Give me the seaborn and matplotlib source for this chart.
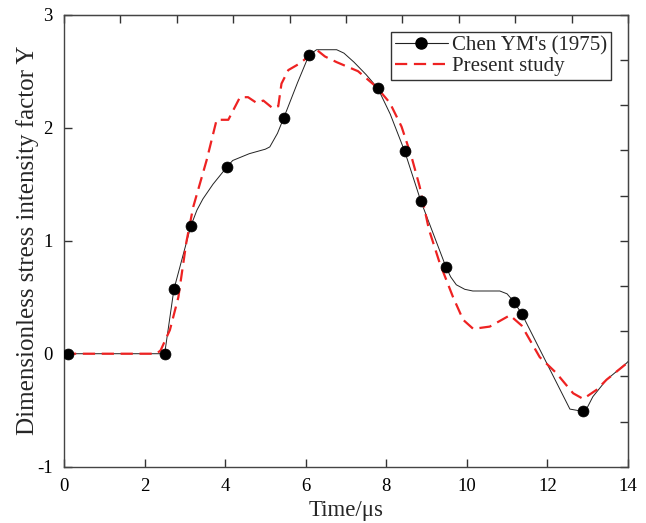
import numpy as np
import pandas as pd
import matplotlib
matplotlib.use('Agg')
import matplotlib.pyplot as plt
import seaborn as sns
from matplotlib.lines import Line2D

sns.set_style("ticks")
plt.rcParams['font.family'] = ['Liberation Serif', 'DejaVu Serif']
plt.rcParams['axes.unicode_minus'] = False

# Chen YM's (1975): curve and marked points
chen_curve_t = [0.1, 2.5, 2.73, 3.15, 3.3, 3.45, 3.7, 4.04, 4.19, 4.6, 5.0, 5.11, 5.3, 5.46,
                5.8, 6.08, 6.27, 6.77, 6.95, 7.2, 7.5, 7.79, 8.1, 8.46, 8.86, 9.48, 9.6,
                9.74, 9.95, 10.15, 10.82, 11.0, 11.17, 11.37, 12.56, 12.88, 13.0, 13.13,
                13.47, 13.96, 14.0]
chen_curve_y = [0.0, 0.0, 0.57, 1.13, 1.27, 1.37, 1.50, 1.65, 1.71, 1.77, 1.81, 1.83, 1.95,
                2.09, 2.40, 2.64, 2.69, 2.69, 2.66, 2.58, 2.47, 2.35, 2.12, 1.79, 1.35,
                0.77, 0.68, 0.61, 0.57, 0.555, 0.555, 0.53, 0.46, 0.35, -0.49, -0.51,
                -0.47, -0.38, -0.23, -0.085, -0.07]
chen_pts_t = [0.1, 2.5, 2.73, 3.15, 4.04, 5.46, 6.08, 7.79, 8.46, 8.86, 9.48, 11.17, 11.37, 12.88]
chen_pts_y = [0.0, 0.0, 0.57, 1.13, 1.65, 2.09, 2.64, 2.35, 1.79, 1.35, 0.77, 0.46, 0.35, -0.51]

# Present study
present_t = [0.0, 2.3, 2.4, 2.63, 2.84, 3.04, 3.21, 3.54, 3.79, 4.08, 4.37, 4.57, 4.78, 4.95,
             5.19, 5.32, 5.40, 5.57, 5.86, 6.27, 6.48, 6.77, 7.30, 7.76, 8.09, 8.38, 8.63,
             8.83, 9.06, 9.33, 9.66, 9.91, 10.16, 10.57, 11.07, 11.36, 11.81, 12.22, 12.64,
             12.89, 13.22, 13.47, 13.92, 14.0]
present_y = [0.0, 0.0, 0.03, 0.21, 0.50, 0.99, 1.30, 1.71, 2.07, 2.07, 2.27, 2.27, 2.22, 2.24,
             2.17, 2.19, 2.39, 2.51, 2.57, 2.69, 2.63, 2.58, 2.50, 2.36, 2.22, 2.01, 1.74,
             1.48, 1.10, 0.80, 0.50, 0.30, 0.22, 0.24, 0.34, 0.25, -0.03, -0.17, -0.35,
             -0.40, -0.32, -0.23, -0.10, -0.08]

chen_curve = pd.DataFrame({'t': chen_curve_t, 'Y': chen_curve_y})
chen_pts = pd.DataFrame({'t': chen_pts_t, 'Y': chen_pts_y})
present = pd.DataFrame({'t': present_t, 'Y': present_y})

red_dash = (0, (5.5, 3))

fig = plt.figure(figsize=(6.46, 5.23), dpi=100)
ax = fig.add_axes([0.099, 0.1076, 0.873, 0.8643])

sns.lineplot(data=chen_curve, x='t', y='Y', color='#222222', linewidth=0.7, sort=False, ax=ax)
sns.scatterplot(data=chen_pts, x='t', y='Y', color='black', s=62, edgecolor='black',
                linewidth=0.5, zorder=4, ax=ax)
sns.lineplot(data=present, x='t', y='Y', color='#ee2222', linewidth=1.6, sort=False,
             linestyle=red_dash, zorder=3, ax=ax)

ax.set_xlim(0, 14)
ax.set_ylim(-1, 3)
ax.set_xticks(np.arange(0, 15, 2))
ax.set_yticks(np.arange(-1, 4, 1))
ax.tick_params(direction='in', length=6, width=1, labelsize=13.5, colors='#333333',
               labelcolor='black')
ax.tick_params(axis='x', pad=8)
ax.tick_params(axis='y', pad=8)
ax.set_xlabel('Time/μs', fontsize=16.5)
ax.set_ylabel('Dimensionless stress intensity factor Y', fontsize=18)
ax.xaxis.set_label_coords(0.5, -0.074)
ax.yaxis.set_label_coords(-0.045, 0.5)
for s in ax.spines.values():
    s.set_visible(True)
    s.set_color('#444444')
    s.set_linewidth(1.0)

# top and right axes with finer ticks, no labels
top = ax.secondary_xaxis('top')
top.set_xticks(np.linspace(0, 14, 11))
top.tick_params(direction='in', length=6, width=1, labeltop=False, colors='#333333')
right = ax.secondary_yaxis('right')
right.set_yticks(np.linspace(-1, 3, 11))
right.tick_params(direction='in', length=6, width=1, labelright=False, colors='#333333')

handles = [
    Line2D([], [], color='#222222', linewidth=0.8, marker='o', markersize=8,
           markerfacecolor='black', markeredgecolor='black'),
    Line2D([], [], color='#ee2222', linewidth=1.6, linestyle=red_dash),
]
leg = ax.legend(handles, ["Chen YM's (1975)", 'Present study'], loc='upper right',
                bbox_to_anchor=(0.97, 0.962), fontsize=15, frameon=True, fancybox=False,
                edgecolor='#333333', framealpha=1, borderpad=0.2, labelspacing=0.05,
                handlelength=2.5, handletextpad=0.2, borderaxespad=0)
leg.get_frame().set_linewidth(1.0)

plt.savefig('out.png', dpi=100)
